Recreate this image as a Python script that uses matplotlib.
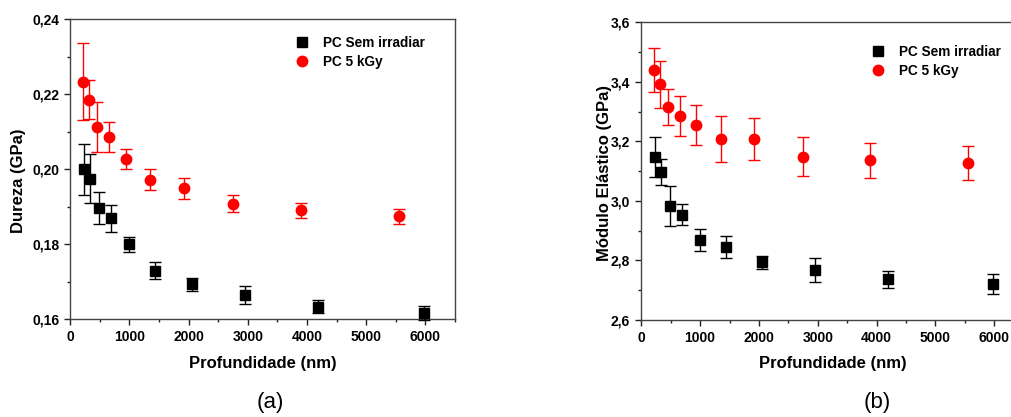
import matplotlib.pyplot as plt
from matplotlib import rcParams as rc
from matplotlib.ticker import MultipleLocator, FuncFormatter

# depth (nm)
depth_sem = [230, 330, 480, 690, 995, 1436, 2057, 2945, 4188, 5983]
depth_5k = [218, 316, 452, 650, 938, 1348, 1915, 2743, 3895, 5549]

# hardness (GPa)
dur_sem = [0.2000, 0.1975, 0.1896, 0.1869, 0.1800, 0.1730, 0.1693, 0.1665, 0.1634, 0.1616]
dur_sem_err = [0.0068, 0.0065, 0.0043, 0.0035, 0.0020, 0.0023, 0.0018, 0.0025, 0.0018, 0.0019]
dur_5k = [0.2234, 0.2186, 0.2113, 0.2087, 0.2027, 0.1972, 0.1949, 0.1908, 0.1891, 0.1875]
dur_5k_err = [0.0102, 0.0052, 0.0067, 0.0040, 0.0027, 0.0028, 0.0027, 0.0023, 0.0020, 0.0020]

# elastic modulus (GPa)
mod_sem = [3.148, 3.096, 2.983, 2.953, 2.869, 2.844, 2.794, 2.768, 2.737, 2.720]
mod_sem_err = [0.067, 0.044, 0.068, 0.035, 0.036, 0.037, 0.022, 0.039, 0.028, 0.034]
mod_5k = [3.440, 3.392, 3.316, 3.284, 3.255, 3.208, 3.207, 3.149, 3.136, 3.128]
mod_5k_err = [0.075, 0.079, 0.061, 0.067, 0.066, 0.078, 0.071, 0.065, 0.060, 0.058]

rc['font.family'] = 'Liberation Sans'
rc['font.size'] = 10

fig = plt.figure(figsize=(10.11, 4.17), dpi=100)
ax1 = fig.add_axes([0.0695, 0.2343, 0.3805, 0.7194])
ax2 = fig.add_axes([0.6343, 0.2326, 0.3782, 0.7139])


def style(ax, ymin, ymax, ymaj, ndec):
    ax.set_xlim(0, 6500)
    ax.set_ylim(ymin, ymax)
    ax.xaxis.set_major_locator(MultipleLocator(1000))
    ax.xaxis.set_minor_locator(MultipleLocator(500))
    ax.yaxis.set_major_locator(MultipleLocator(ymaj))
    ax.yaxis.set_minor_locator(MultipleLocator(ymaj / 2))
    ax.yaxis.set_major_formatter(FuncFormatter(lambda v, p: f'{v:.{ndec}f}'.replace('.', ',')))
    ax.tick_params(which='both', direction='out', top=False, right=False, width=1,
                   colors='#222222', labelcolor='black')
    ax.tick_params(which='major', length=4.5, labelsize=10)
    ax.tick_params(which='minor', length=2.5)
    for lab in ax.get_xticklabels() + ax.get_yticklabels():
        lab.set_fontweight('bold')
    for s in ax.spines.values():
        s.set_color('#444444')
        s.set_linewidth(1)
    ax.set_xlabel('Profundidade (nm)', fontsize=12, fontweight='bold', labelpad=8)


def plot_pair(ax, ys, ye, yr, yre):
    ax.errorbar(depth_sem, ys, yerr=ye, fmt='s', color='black', ms=6.5, capsize=4,
                elinewidth=1, capthick=1, label='PC Sem irradiar', clip_on=False, zorder=3)
    ax.errorbar(depth_5k, yr, yerr=yre, fmt='o', color='red', ms=7.5, capsize=4,
                elinewidth=1, capthick=1, label='PC 5 kGy', clip_on=False, zorder=3)
    handles, labels = ax.get_legend_handles_labels()
    handles = [h[0] for h in handles]
    return handles, labels


h, l = plot_pair(ax1, dur_sem, dur_sem_err, dur_5k, dur_5k_err)
style(ax1, 0.16, 0.24, 0.02, 2)
ax1.set_ylabel('Dureza (GPa)', fontsize=12, fontweight='bold')
ax1.yaxis.set_label_coords(-0.115, 0.461)
ax1.legend(h, l, loc='upper left', bbox_to_anchor=(0.55, 0.985), frameon=False,
           prop={'weight': 'bold', 'size': 9.8}, handletextpad=0.9, labelspacing=0.35,
           handlelength=1.2)

h, l = plot_pair(ax2, mod_sem, mod_sem_err, mod_5k, mod_5k_err)
style(ax2, 2.6, 3.6, 0.2, 1)
ax2.set_ylabel('Módulo Elástico (GPa)', fontsize=12, fontweight='bold')
ax2.yaxis.set_label_coords(-0.077, 0.494)
ax2.legend(h, l, loc='upper left', bbox_to_anchor=(0.567, 0.965), frameon=False,
           prop={'weight': 'bold', 'size': 9.8}, handletextpad=0.9, labelspacing=0.35,
           handlelength=1.2)

fig.text(0.267, 0.034, '(a)', ha='center', va='center', fontsize=16)
fig.text(0.868, 0.034, '(b)', ha='center', va='center', fontsize=16)

fig.savefig('out.png', dpi=100)
